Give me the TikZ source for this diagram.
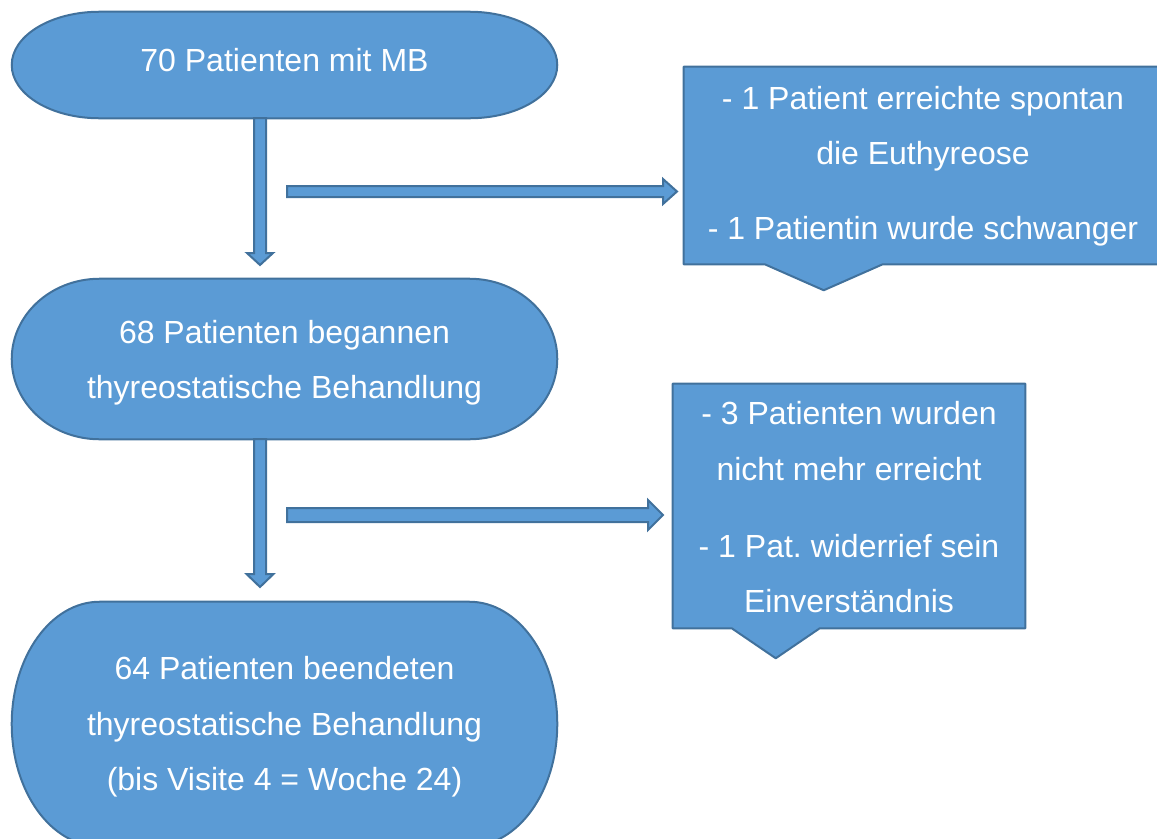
\documentclass[tikz,border=0pt]{standalone}
\usepackage{fontspec}
\setmainfont{Liberation Sans}
\usetikzlibrary{calc}
\definecolor{boxfill}{HTML}{5B9BD5}
\definecolor{boxline}{HTML}{41719C}
\tikzset{
  shapestyle/.style={fill=boxfill,draw=boxline,line width=1.5pt,line join=round},
  arrowstyle/.style={fill=boxfill,draw=boxline,line width=1.5pt,line join=miter},
  holder/.style={inner sep=0pt,draw=none},
  txt/.style={inner sep=0pt,text=white,align=center,
    font=\fontsize{24}{41.5}\selectfont\frenchspacing},
}
\newcommand\drawterm[1]{%
  \path[shapestyle] let \p1=(#1.north west), \p2=(#1.south east),
    \n1={0.161*(\x2-\x1)}, \n2={(\y1-\y2)/2} in
    ({\x1+\n1*1pt},\y1) -- ({\x2-\n1*1pt},\y1)
    arc[start angle=90,end angle=-90,x radius={\n1*1pt},y radius={\n2*1pt}]
    -- ({\x1+\n1*1pt},\y2)
    arc[start angle=-90,end angle=-270,x radius={\n1*1pt},y radius={\n2*1pt}]
    -- cycle;}
\newcommand\drawcallout[4]{%
  \path[shapestyle] (#1.north west) -- (#1.north east) -- (#1.south east)
    -- ($(#1.south west)+(#4,0)$) -- ($(#1.south west)+(#3)$)
    -- ($(#1.south west)+(#2,0)$) -- (#1.south west) -- cycle;}
\newcommand\vblock[5]{%
  \path[arrowstyle] ($(#1)+(-#3,0)$) -- ($(#1)+(#3,0)$) -- ($(#2)+(#3,-#5)$)
    -- ($(#2)+(#4,-#5)$) -- (#2) -- ($(#2)+(-#4,-#5)$) -- ($(#2)+(-#3,-#5)$) -- cycle;}
\newcommand\hblock[5]{%
  \path[arrowstyle] ($(#1)+(0,-#3)$) -- ($(#2)+(-#5,-#3)$) -- ($(#2)+(-#5,-#4)$)
    -- (#2) -- ($(#2)+(-#5,#4)$) -- ($(#2)+(-#5,#3)$) -- ($(#1)+(0,#3)$) -- cycle;}
\begin{document}
\begin{tikzpicture}[x=0.75pt,y=-0.75pt]
\useasboundingbox (0,0) rectangle (1157,839);

% shape placeholders
\node[holder,minimum width=545*0.75pt,minimum height=106*0.75pt] (a) at (284.5,65) {};
\node[holder,minimum width=545*0.75pt,minimum height=160*0.75pt] (b) at (284.5,359) {};
\node[holder,minimum width=545*0.75pt,minimum height=244*0.75pt] (c) at (284.5,724) {};
\node[holder,minimum width=478*0.75pt,minimum height=197*0.75pt] (d) at (923,165.5) {};
\node[holder,minimum width=352*0.75pt,minimum height=244*0.75pt] (e) at (849,506) {};

\drawterm{a}
\drawterm{b}
\drawterm{c}
\drawcallout{d}{81}{140,26}{199}
\drawcallout{e}{59}{103,30}{147}

% texts
\node[txt] (ta) at ($(a.center)+(0,-5)$) {70 Patienten mit MB};
\node[txt] (tb) at ($(b.center)+(0,4)$)
  {68 Patienten begannen\\thyreostatische Behandlung};
\node[txt] (tc) at ($(c.center)+(0,3)$)
  {64 Patienten beendeten\\thyreostatische Behandlung\\(bis Visite 4 = Woche 24)};
\node[txt] (td) at ($(d.center)+(0,0.5)$)
  {- 1 Patient erreichte spontan\\die Euthyreose\\[14.5pt]- 1 Patientin wurde schwanger};
\node[txt] (te) at ($(e.center)+(0,1.5)$)
  {- 3 Patienten wurden\\nicht mehr erreicht\\[16.5pt]- 1 Pat. widerrief sein\\Einverständnis};

% block arrows
\coordinate (v1s) at (260,118);
\coordinate (v1e) at (260,265);
\coordinate (v2s) at (260,439);
\coordinate (v2e) at (260,587);
\coordinate (h1s) at (287,191.5);
\coordinate (h1e) at (677,191.5);
\coordinate (h2s) at (287,515);
\coordinate (h2e) at (663,515);
\vblock{v1s}{v1e}{6}{13}{12}
\vblock{v2s}{v2e}{6}{13.5}{13}
\hblock{h1s}{h1e}{5.5}{12.5}{14}
\hblock{h2s}{h2e}{7}{15}{15}
\end{tikzpicture}
\end{document}
